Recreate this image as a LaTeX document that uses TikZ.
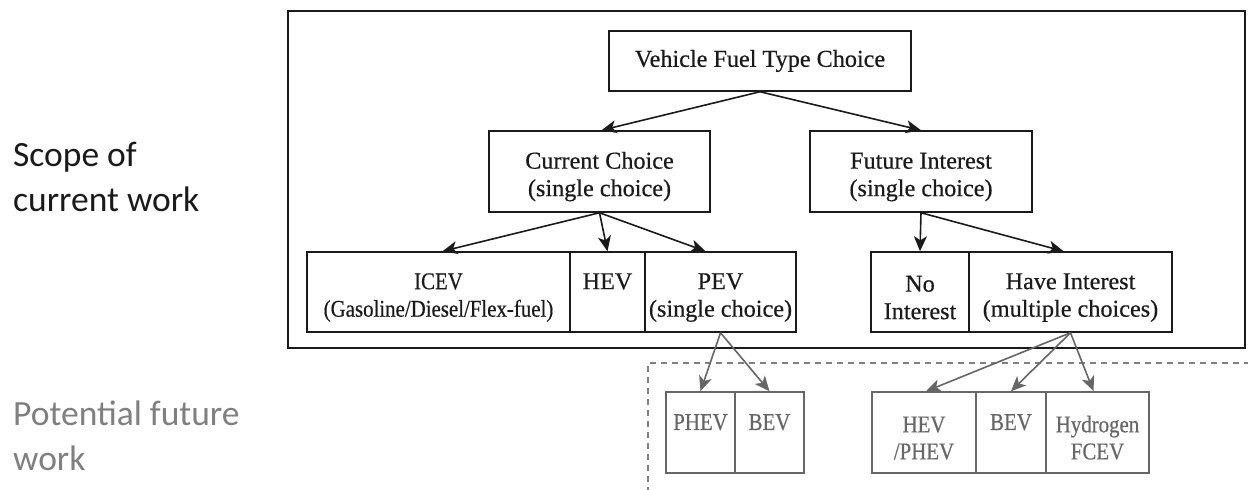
\documentclass[tikz,border=0pt]{standalone}
\usepackage{fontspec}
\setmainfont{Liberation Serif}[FakeBold=0.5]
\newfontfamily\labelfont{Carlito}
\newfontfamily\narrowserif[FakeStretch=0.87,FakeBold=0.5]{Liberation Serif}
\usetikzlibrary{arrows.meta,calc}

\definecolor{ink}{HTML}{1A1A1A}
\definecolor{futgray}{HTML}{666666}
\definecolor{notegray}{HTML}{7F7F7F}
\definecolor{dashgray}{HTML}{808080}

% extra headroom above the first line of two-line labels
\newcommand{\toppad}{\rule{0pt}{27pt}}

\tikzset{
  box/.style={draw=ink, line width=1.5pt, rectangle, inner sep=0pt, align=center,
    text=ink, font=\fontsize{24.2}{27.5}\selectfont},
  narrowbox/.style={box, font=\narrowserif\fontsize{24}{27.5}\selectfont},
  futbox/.style={box, draw=futgray, text=futgray, font=\narrowserif\fontsize{24}{27}\selectfont},
  arr/.style={draw=ink, line width=1.6pt, -{Stealth[length=15pt,width=13pt,inset=4pt]}},
  futarr/.style={arr, draw=futgray, fill=futgray},
  note/.style={anchor=base west, align=left, inner sep=0pt,
    font=\labelfont\fontsize{35.5}{45}\selectfont},
}

\begin{document}
\begin{tikzpicture}[x=1pt,y=-1pt]
  \useasboundingbox (0,0) rectangle (1248,490);

  % scope frames
  \draw[ink, line width=1.8pt] (288,11) rectangle (1245,348);
  \draw[dashgray, line width=1.5pt, dash pattern=on 6pt off 5pt]
    (1250,363) -- (648,363) -- (648,492);

  % side notes (anchored at the baseline of their last line)
  \node[note, text=ink] (scope) at (13,211) {Scope of\\current work};
  \node[note, text=notegray] (future) at (13,470) {Potential future\\work};

  % decision tree
  \node[box, minimum width=302pt, minimum height=60pt] (root) at (760,61) {Vehicle Fuel Type Choice};
  \node[box, minimum width=221pt, minimum height=81pt] (cur) at (599.5,171.5) {\toppad Current Choice\\(single choice)};
  \node[box, minimum width=222pt, minimum height=81pt] (fut) at (921,171.5) {\toppad Future Interest\\(single choice)};

  \node[narrowbox, minimum width=263pt, minimum height=80pt] (icev) at (438.5,292) {\toppad ICEV\\(Gasoline/Diesel/Flex-fuel)};
  \node[box, minimum width=75pt, minimum height=80pt] (hev) at (607.5,292) {\toppad HEV\\\phantom{(H)}};
  \node[box, minimum width=151pt, minimum height=80pt] (pev) at (720.5,292) {\toppad PEV\\(single choice)};
  \node[box, minimum width=98pt, minimum height=80pt] (noint) at (920,292) {\toppad No\\Interest};
  \node[box, minimum width=203pt, minimum height=80pt] (haveint) at (1070.5,292) {\toppad Have Interest\\(multiple choices)};

  \node[futbox, minimum width=69pt, minimum height=81pt] (phev) at (700.5,432.5) {\toppad PHEV\\\phantom{(H)}};
  \node[futbox, minimum width=69pt, minimum height=81pt] (bevA) at (769.5,432.5) {\toppad BEV\\\phantom{(H)}};
  \node[futbox, minimum width=104pt, minimum height=81pt] (hevphev) at (924,432.5) {\toppad HEV\\/PHEV};
  \node[futbox, minimum width=70pt, minimum height=81pt] (bevB) at (1011,432.5) {\toppad BEV\\\phantom{(H)}};
  \node[futbox, minimum width=103pt, minimum height=81pt] (hyd) at (1097.5,432.5) {\toppad Hydrogen\\FCEV};

  % connectors
  \draw[arr] (root.south) -- ($(cur.north)+(2,0)$);
  \draw[arr] (root.south) -- (fut.north);
  \draw[arr] (cur.south) -- ($(icev.north)+(4,0)$);
  \draw[arr] (cur.south) -- (hev.north);
  \draw[arr] (cur.south) -- ($(pev.north)+(-15,0)$);
  \draw[arr] (fut.south) -- (noint.north);
  \draw[arr] (fut.south) -- ($(haveint.north)+(-7,0)$);

  \draw[futarr] (pev.south) -- (phev.north);
  \draw[futarr] (pev.south) -- (bevA.north);
  \draw[futarr] (haveint.south) -- ($(hevphev.north)+(2,0)$);
  \draw[futarr] (haveint.south) -- (bevB.north);
  \draw[futarr] (haveint.south) -- ($(hyd.north)+(-4,0)$);
\end{tikzpicture}
\end{document}
